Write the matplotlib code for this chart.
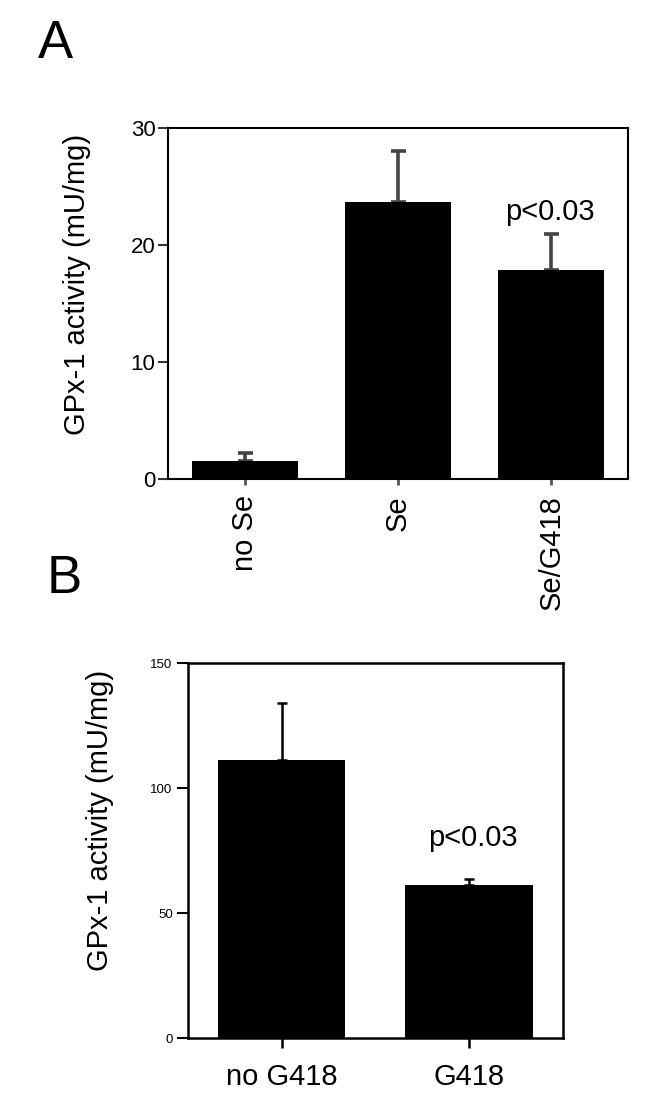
import matplotlib
matplotlib.use("Agg")
import matplotlib.pyplot as plt

plt.rcParams['font.family'] = ['Liberation Sans', 'DejaVu Sans']

# Panel A data
cats_a = ["no Se", "Se", "Se/G418"]
vals_a = [1.5, 23.65, 17.9]
errs_a = [0.75, 4.35, 3.0]
yticks_a = [0, 10, 20, 30]

# Panel B data
cats_b = ["no G418", "G418"]
vals_b = [111.2, 61.2]
errs_b = [22.9, 2.3]
yticks_b = [0, 50, 100, 150]

pval_text = "p<0.03"
ylabel = "GPx-1 activity (mU/mg)"

fig = plt.figure(figsize=(6.52, 11.14), dpi=100)

# ---- Panel A ----
axA = fig.add_axes([0.2577, 0.5700, 0.7055, 0.3151])
xa = list(range(len(cats_a)))
axA.bar(xa, vals_a, width=0.69, color='black', zorder=2)
axA.errorbar(xa, vals_a, yerr=[[0]*len(errs_a), errs_a], fmt='none',
             ecolor='#444444', elinewidth=2.6, capsize=5.4, capthick=2.6, zorder=1)
axA.set_xlim(-0.5, 2.5)
axA.set_ylim(0, 30)
axA.set_yticks(yticks_a)
axA.set_yticklabels([str(t) for t in yticks_a], fontsize=16)
axA.set_xticks(xa)
axA.set_xticklabels(cats_a, rotation=90, fontsize=21, va='top')
axA.tick_params(axis='y', length=7, width=1.5, pad=2, color='#333333')
axA.tick_params(axis='x', length=4.5, width=2, pad=7, color='#555555')
for s in axA.spines.values():
    s.set_linewidth(1.5)
axA.set_ylabel(ylabel, fontsize=21, va='center')
axA.yaxis.set_label_coords(-0.198, 0.553)
axA.text(1.99, 22.8, pval_text, fontsize=21, ha='center', va='center')

# ---- Panel B ----
axB = fig.add_axes([0.2883, 0.0682, 0.5752, 0.3366])
xb = list(range(len(cats_b)))
axB.bar(xb, vals_b, width=0.68, color='black', zorder=2)
axB.errorbar(xb, vals_b, yerr=[[0]*len(errs_b), errs_b], fmt='none',
             ecolor='black', elinewidth=1.8, capsize=3.4, capthick=1.8, zorder=1)
axB.set_xlim(-0.5, 1.5)
axB.set_ylim(0, 150)
axB.set_yticks(yticks_b)
axB.set_yticklabels([str(t) for t in yticks_b], fontsize=9.5)
axB.set_xticks(xb)
axB.set_xticklabels(cats_b, fontsize=21)
axB.tick_params(axis='y', length=8, width=1.5, pad=3)
axB.tick_params(axis='x', length=7, width=1.8, pad=11)
for s in axB.spines.values():
    s.set_linewidth(1.8)
axB.set_ylabel(ylabel, fontsize=21, va='center')
axB.yaxis.set_label_coords(-0.235, 0.579)
axB.text(1.02, 80, pval_text, fontsize=21, ha='center', va='center')

# Panel letters
fig.text(55/652, 1 - 44/1114, "A", fontsize=38, ha='center', va='center')
fig.text(64/652, 1 - 579/1114, "B", fontsize=38, ha='center', va='center')

fig.savefig("out.png", dpi=100)
